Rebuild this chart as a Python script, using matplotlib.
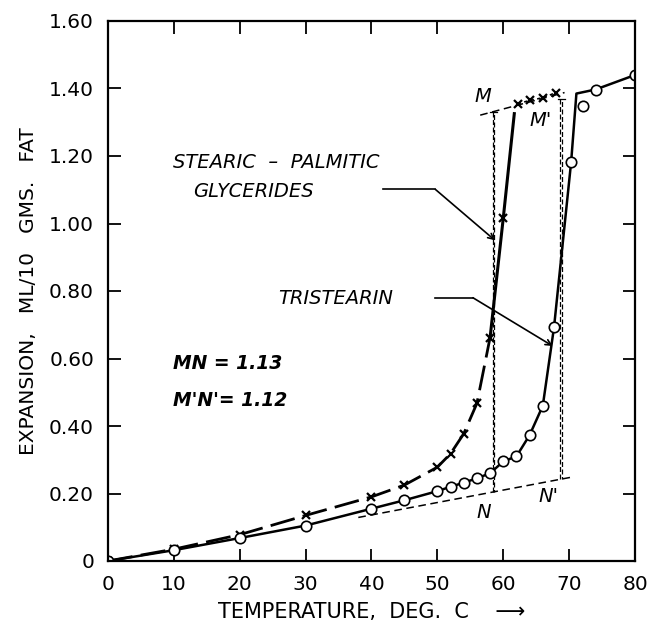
import matplotlib
matplotlib.use('Agg')
import matplotlib.pyplot as plt
import numpy as np

# Stearic-palmitic glycerides (crosses)
stearic_t = [0, 10, 20, 30, 40, 45, 50, 52, 54, 56, 58, 60, 62.2, 64.1, 66.1, 68.0]
stearic_v = [0, 0.035, 0.078, 0.135, 0.19, 0.225, 0.278, 0.318, 0.377, 0.467, 0.662, 1.016,
             1.355, 1.365, 1.373, 1.388]
stearic_bend = (61.7, 1.33)   # top of the steep solid part

# Tristearin (open circles)
tri_t = [0, 10, 20, 30, 40, 45, 50, 52, 54, 56, 58, 60, 62, 64, 66, 67.7, 70.3, 72.1, 74, 80]
tri_v = [0, 0.032, 0.068, 0.105, 0.155, 0.18, 0.207, 0.22, 0.232, 0.245, 0.26, 0.295,
         0.31, 0.373, 0.46, 0.692, 1.182, 1.348, 1.397, 1.44]
tri_outlier = 72.1            # circle not on the line
tri_kink = (71.1, 1.385)

# construction lines
m_line = ([56.5, 69.3], [1.321, 1.388])
n_line = ([38.0, 70.8], [0.129, 0.25])
mn_t, mn_v = 58.5, (0.205, 1.331)
mn2_t, mn2_v = 68.8, (0.243, 1.37)

x_ticks = np.arange(0, 81, 10)
y_ticks = np.arange(0, 1.61, 0.2)
y_labels = ['0'] + [f'{v:.2f}' for v in y_ticks[1:]]

fig = plt.figure(figsize=(6.5, 6.25), dpi=100)
ax = fig.add_axes([0.166, 0.1024, 0.811, 0.864])

# construction dashed lines
dash = dict(color='black', lw=1.1, ls=(0, (5, 3)))
ax.plot(*m_line, **dash)
ax.plot(*n_line, **dash)
for t, (v0, v1) in [(mn_t, mn_v), (mn2_t, mn2_v)]:
    ax.plot([t - 0.12, t - 0.12], [v0, v1], color='black', lw=0.9, ls=(0, (4, 2)))
    ax.plot([t + 0.12, t + 0.12], [v0, v1], color='black', lw=0.9, ls=(2, (4, 2)))
    ax.plot([t - 0.5, t + 0.5], [v1, v1], color='black', lw=0.9)

# stearic-palmitic curve
i58 = stearic_t.index(58)
i62 = stearic_t.index(62.2)
ax.plot(stearic_t[:i58 + 1], stearic_v[:i58 + 1], color='black', lw=2.0,
        ls=(0, (9, 3)))
ax.plot(stearic_t[i58:i62] + [stearic_bend[0]], stearic_v[i58:i62] + [stearic_bend[1]],
        color='black', lw=2.2, solid_capstyle='butt')
ax.plot(stearic_t[i62:], stearic_v[i62:], color='black', lw=1.2, ls=(0, (2, 2)))
ax.plot(stearic_t, stearic_v, ls='none', marker='x', ms=6, mew=1.6, color='black')

# tristearin curve
line_t = [t for t in tri_t if t != tri_outlier]
line_v = [v for t, v in zip(tri_t, tri_v) if t != tri_outlier]
k = line_t.index(74)
line_t.insert(k, tri_kink[0])
line_v.insert(k, tri_kink[1])
ax.plot(line_t, line_v, color='black', lw=1.8)
ax.plot(tri_t, tri_v, ls='none', marker='o', ms=7.5, mfc='white', mec='black', mew=1.2)

# labels on the chart
txt = dict(fontsize=14, style='italic', color='black', va='center')
ax.text(9.9, 1.18, 'STEARIC  \u2013  PALMITIC', **txt)
ax.text(12.9, 1.095, 'GLYCERIDES', **txt)
ax.plot([41.8, 49.7], [1.101, 1.101], color='black', lw=1.2)
ax.annotate('', xy=(58.75, 0.95), xytext=(49.7, 1.101),
            arrowprops=dict(arrowstyle='->', color='black', lw=1.2, shrinkA=0, shrinkB=0))
ax.text(25.8, 0.778, 'TRISTEARIN', **txt)
ax.plot([49.6, 55.4], [0.78, 0.78], color='black', lw=1.2)
ax.annotate('', xy=(67.5, 0.637), xytext=(55.4, 0.78),
            arrowprops=dict(arrowstyle='->', color='black', lw=1.2, shrinkA=0, shrinkB=0))

ax.text(56.9, 1.375, 'M', fontsize=14, style='italic', ha='center', va='center')
ax.text(65.7, 1.305, "M'", fontsize=14, style='italic', ha='center', va='center')
ax.text(57.0, 0.145, 'N', fontsize=14, style='italic', ha='center', va='center')
ax.text(66.9, 0.19, "N'", fontsize=14, style='italic', ha='center', va='center')

ax.text(9.9, 0.585, 'MN = 1.13', fontsize=13.5, style='italic', weight='bold', va='center')
ax.text(9.9, 0.475, "M'N'= 1.12", fontsize=13.5, style='italic', weight='bold', va='center')

# axes
ax.set_xlim(0, 80)
ax.set_ylim(0, 1.6)
ax.set_xticks(x_ticks)
ax.set_yticks(y_ticks)
ax.set_yticklabels(y_labels)
ax.tick_params(direction='in', length=9, width=1.3, top=True, right=True,
               labelsize=14.5, pad=10)
for s in ax.spines.values():
    s.set_linewidth(1.6)

ax.set_xlabel('TEMPERATURE,  DEG.  C    \u27f6', fontsize=15, labelpad=6)
ax.set_ylabel('EXPANSION,   ML/10   GMS.   FAT', fontsize=14.5, labelpad=8)

fig.savefig('out.png', dpi=100)
